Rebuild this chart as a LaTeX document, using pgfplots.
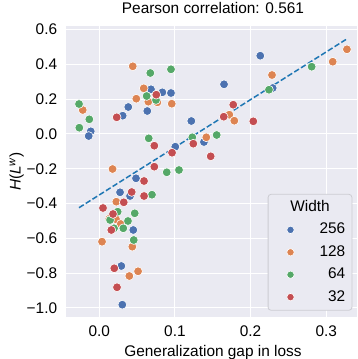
\documentclass[border=0pt]{standalone}
\usepackage{fontspec}
\setmainfont{Liberation Sans}
\usepackage{pgfplots}
\pgfplotsset{compat=1.18}
\definecolor{bgc}{HTML}{EAEAF2}
\definecolor{cb}{HTML}{4C72B0}
\definecolor{co}{HTML}{DD8452}
\definecolor{cg}{HTML}{55A868}
\definecolor{cr}{HTML}{C44E52}
\definecolor{tabblue}{HTML}{1F77B4}
\definecolor{legedge}{HTML}{CCCCD2}
\newcommand{\fs}{\fontsize{15.4bp}{18.5bp}\selectfont}
\begin{document}
\begin{tikzpicture}
\begin{axis}[
  name=ax,
  scale only axis, width=291bp, height=291bp,
  xmin=-0.0439, xmax=0.3406, ymin=-1.052, ymax=0.620,
  axis background/.style={fill=bgc},
  axis line style={draw=none},
  major tick length=0pt,
  grid=major, major grid style={white, line width=1bp},
  xtick={0,0.1,0.2,0.3}, xticklabels={0.0,0.1,0.2,0.3},
  ytick={-1,-0.8,-0.6,-0.4,-0.2,0,0.2,0.4,0.6},
  yticklabels={−1.0,−0.8,−0.6,−0.4,−0.2,0.0,0.2,0.4,0.6},
  font=\fs, tick label style={font=\fs},
  xticklabel style={anchor=base, inner sep=0pt, yshift=-19.7bp},
  yticklabel style={anchor=east, inner sep=0pt, xshift=-8.7bp},
  title={Pearson correlation: 0.561},
  title style={at={(0.505,1.02405)}, anchor=base, inner sep=0pt},
  xlabel={Generalization gap in loss},
  xlabel style={at={(0.505,-0.1357)}, anchor=base, inner sep=0pt},
  ylabel={\textit{H}(\textit{L}\textsuperscript{\textit{w}})},
  ylabel style={at={(-0.1557,0.5)}, anchor=base, inner sep=0pt},
  legend cell align=right,
  legend style={at={(0.98385,0.02165)}, anchor=south east, fill=bgc, draw=legedge,
    line width=0.8bp, rounded corners=3bp, inner xsep=6.6bp, inner ysep=6.2bp,
    row sep=8.4bp, column sep=0pt, font=\fs,
    nodes={inner sep=0pt, text height=11bp, text depth=3bp}},
  legend image code/.code={\path (-15.4bp,0) (28.7bp,0); \draw[#1, mark size=3.7bp] plot coordinates {(0bp,0bp)};},
]
\addplot[forget plot, tabblue, line width=1.5bp, dash pattern=on 5.55bp off 2.4bp]
  coordinates {(-0.0267,-0.424) (0.3270,0.5452)};

\addlegendimage{empty legend}
\addlegendentry{\makebox[0pt][r]{Width\hspace*{15bp}}}

\addplot[only marks, mark=*, mark size=4.4bp, mark options={draw=white, fill=cb, line width=0.6bp}] table {
x y
-0.0112 0.0149
-0.0139 -0.0121
0.0310 0.1046
0.0384 0.1545
0.0684 0.2562
0.0635 0.1316
0.0834 0.2390
0.0948 0.2350
0.1217 0.0741
0.1005 -0.0735
0.2128 0.4493
0.1649 0.2850
0.2292 0.2637
0.1384 -0.0465
0.0486 -0.2551
0.0275 -0.3355
0.0407 -0.3568
0.0450 -0.5521
0.0292 -0.7589
0.0305 -0.9813
};
\addlegendentry{256}

\addplot[only marks, mark=*, mark size=4.4bp, mark options={draw=white, fill=co, line width=0.6bp}] table {
x y
-0.0218 0.1373
0.0443 0.3884
0.0490 0.2022
0.0588 0.2620
0.0649 0.1850
0.0768 0.1815
0.0958 0.1735
0.0176 -0.2017
0.2283 0.3384
0.3085 0.4148
0.3273 0.4860
0.1719 0.1103
0.1785 0.0758
0.1415 -0.0195
0.0226 -0.3895
0.0133 -0.4872
0.0222 -0.4906
0.0284 -0.5176
0.0037 -0.6193
0.0437 -0.6481
0.0398 -0.8164
0.0513 -0.7894
};
\addlegendentry{128}

\addplot[only marks, mark=*, mark size=4.4bp, mark options={draw=white, fill=cg, line width=0.6bp}] table {
x y
-0.0267 0.1718
-0.0131 0.0839
-0.0263 0.0356
0.0627 0.2177
0.0750 0.1948
0.0675 0.3499
0.0948 0.3711
0.0654 -0.0253
0.1230 -0.0195
0.0892 -0.2206
0.1054 -0.2074
0.2807 0.3861
0.2243 0.2539
0.1552 -0.0063
0.0697 -0.3493
0.0244 -0.4470
0.0469 -0.4562
0.0143 -0.4947
0.0380 -0.5004
0.0196 -0.5423
0.0318 -0.5423
0.0456 -0.6096
};
\addlegendentry{64}

\addplot[only marks, mark=*, mark size=4.4bp, mark options={draw=white, fill=cr, line width=0.6bp}] table {
x y
0.0231 0.0954
0.0754 0.2252
0.0728 -0.0678
0.0962 -0.1080
0.1243 -0.0563
0.0728 -0.1884
0.1771 0.1678
0.1645 0.0988
0.2036 0.0724
0.1473 -0.1287
0.0592 -0.2706
0.0429 -0.3338
0.0592 -0.3568
0.0324 -0.3930
0.0050 -0.4257
0.0182 -0.4602
0.0160 -0.5521
0.0199 -0.7721
0.0235 -0.8813
};
\addlegendentry{32}
\end{axis}
\pgfresetboundingbox
\path[use as bounding box] (ax.south west) ++(-66bp,-42bp) rectangle ([shift={(1bp,26bp)}]ax.north east);
\end{tikzpicture}
\end{document}
